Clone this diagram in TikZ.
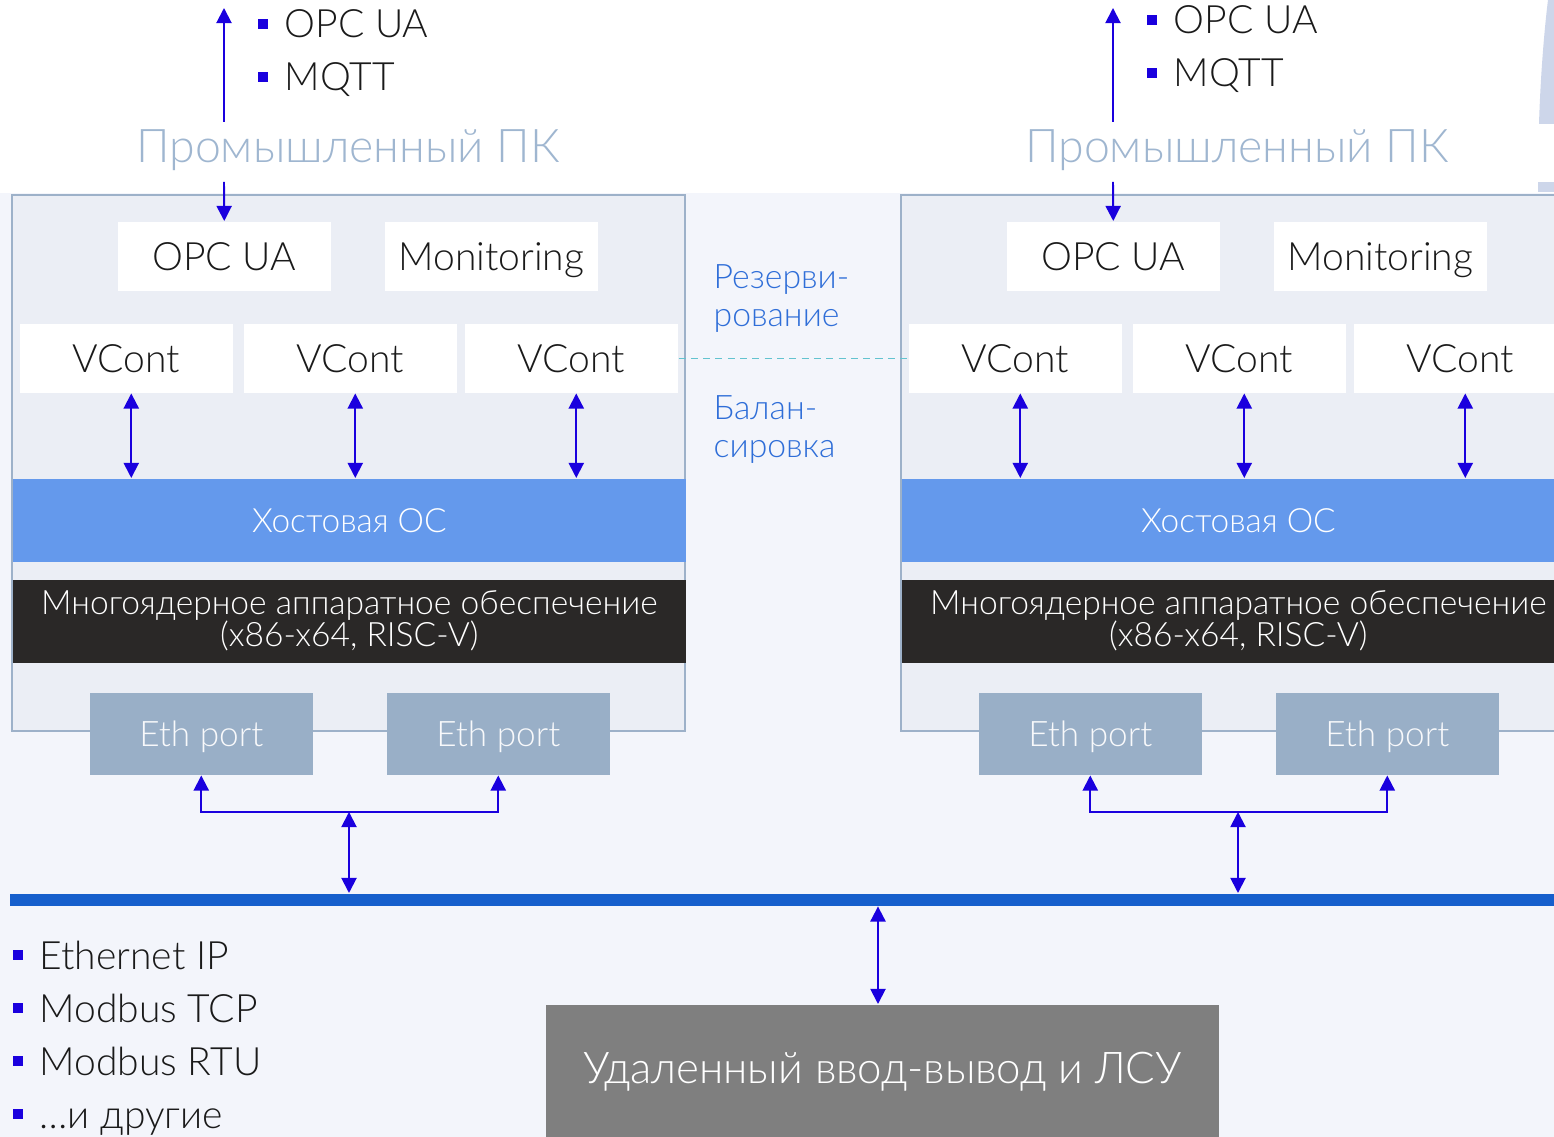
\documentclass[tikz,border=0pt]{standalone}
\usepackage{fontspec}
\setmainfont{Lato}[UprightFont={* Light}]
\usetikzlibrary{arrows.meta,positioning}
\definecolor{pagebg}{HTML}{F3F5FB}
\definecolor{framefill}{HTML}{EBEEF5}
\definecolor{framecol}{HTML}{9DB1C9}
\definecolor{titlecol}{HTML}{9FB6D0}
\definecolor{hostcol}{HTML}{6499EC}
\definecolor{hwcol}{HTML}{2A2827}
\definecolor{ethcol}{HTML}{99AFC7}
\definecolor{arrowblue}{HTML}{1A00DE}
\definecolor{buscol}{HTML}{165FCC}
\definecolor{riocol}{HTML}{7F7F7F}
\definecolor{midcol}{HTML}{2F6ED8}
\definecolor{dashcol}{HTML}{63C3CF}
\definecolor{ghostcol}{HTML}{CDD6EA}
\definecolor{boxtext}{HTML}{1A1A1A}
\newcommand\sqbul{{\color{arrowblue}\rule[0.09cm]{0.1cm}{0.1cm}}\hspace{0.17cm}}
\tikzset{
  whitebox/.style={fill=white, inner sep=0pt, anchor=north west,
    minimum width=2.13cm, minimum height=0.69cm, text=boxtext,
    text height=0.28cm, text depth=0pt,
    font=\fontsize{11.1}{13}\selectfont},
  hostbar/.style={fill=hostcol, inner sep=0pt, anchor=north west,
    minimum width=6.73cm, minimum height=0.83cm, text=white,
    text height=0.24cm, text depth=0pt,
    font=\fontsize{9.5}{12}\selectfont},
  hwbar/.style={fill=hwcol, inner sep=0pt, anchor=north west, align=center,
    minimum width=6.73cm, minimum height=0.83cm, text=white,
    font=\fontsize{9.55}{9.1}\selectfont},
  ethbox/.style={fill=ethcol, inner sep=0pt, anchor=north west,
    minimum width=2.23cm, minimum height=0.82cm, text=white!93!ethcol,
    text height=0.25cm, text depth=0pt,
    font=\fontsize{10}{12}\selectfont},
  pctitle/.style={anchor=base, inner sep=0pt, text=titlecol,
    font=\fontsize{13.2}{14}\selectfont},
  item/.style={anchor=base west, inner sep=0pt, text=boxtext,
    font=\fontsize{11.1}{12}\selectfont},
  midlabel/.style={anchor=north west, inner sep=0pt, align=left, text=midcol,
    font=\fontsize{9.6}{10.8}\selectfont},
  frame/.style={draw=framecol, line width=0.6pt, fill=framefill},
  arr/.style={-{Triangle[length=4.3pt,width=4.3pt]}, line width=0.55pt, draw=arrowblue},
  biarr/.style={{Triangle[length=4.3pt,width=4.3pt]}-{Triangle[length=4.3pt,width=4.3pt]},
    line width=0.55pt, draw=arrowblue},
  dashline/.style={draw=dashcol, dash pattern=on 2pt off 1.5pt, line width=0.3pt}
}
\begin{document}
\begin{tikzpicture}[x=0.01cm,y=-0.01cm]
  \useasboundingbox (0,0) rectangle (1554,1137);
  \clip (0,0) rectangle (1554,1137);
  \fill[pagebg] (0,193) rectangle (1554,1137);
  \fill[white] (0,0) rectangle (1554,193);
  % cropped shapes at the right edge
  \fill[ghostcol] (1554,0) -- (1548,0) .. controls (1543,40) and (1540,90) .. (1539,124) -- (1554,124) -- cycle;
  \fill[ghostcol] (1538,182) rectangle (1554,192);

  \node[fill=buscol, inner sep=0pt, anchor=north west, minimum width=15.45cm, minimum height=0.12cm] (bus) at (9,893) {};

  \foreach \s/\dx/\dy in {l/0/0, r/889/-4} {
    \draw[frame] (12+\dx,195) rectangle (685+\dx,731);
    \node[pctitle] (pc\s) at (348+\dx,163) {Промышленный ПК};
    \node[item] (opcitem\s) at (257+\dx,38+\dy) {\sqbul OPC UA};
    \node[item] (mqtt\s) at (257+\dx,91+\dy) {\sqbul MQTT};
    \node[whitebox] (opc\s) at (117+\dx,221) {OPC UA};
    \node[whitebox] (mon\s) at (384+\dx,221) {Monitoring};
    \node[whitebox] (vca\s) at (19+\dx,323) {VCont};
    \node[whitebox] (vcb\s) at (243+\dx,323) {VCont};
    \node[whitebox] (vcc\s) at (464+\dx,323) {VCont};
    \node[hostbar] (host\s) at (12+\dx,478) {Хостовая ОС};
    \node[hwbar] (hw\s) at (12+\dx,579) {Многоядерное аппаратное обеспечение\\(x86-x64, RISC-V)};
    \node[ethbox] (etha\s) at (89+\dx,692) {Eth port};
    \node[ethbox] (ethb\s) at (386+\dx,692) {Eth port};
    % links to the upper level
    \coordinate (dn\s) at (224+\dx,122);
    \coordinate (up\s) at (224+\dx,8);
    \coordinate (in\s) at (224+\dx,182);
    \draw[arr] (dn\s) -- (up\s);
    \draw[arr] (in\s) -- (opc\s.north);
    \foreach \v in {a,b,c}
      \draw[biarr] ([xshift=0.05cm]vc\v\s.south) -- ([xshift=0.05cm]vc\v\s.south |- host\s.north);
    \coordinate (join\s) at (349+\dx,812);
    \draw[biarr] (etha\s.south) |- (join\s) -| (ethb\s.south);
    \draw[biarr] (join\s) -- (join\s |- bus.north);
  }

  \draw[dashline] (vccl.east) -- (vcar.west);
  \node[midlabel] (resv) at (713,264) {Резерви-\\рование};
  \node[midlabel] (bal) at (713,395) {Балан-\\сировка};

  \node[fill=riocol, inner sep=0pt, anchor=north west, minimum width=6.73cm, minimum height=1.33cm,
    text=white, font=\fontsize{12.45}{15}\selectfont] (rio) at (545,1004) {Удаленный ввод-вывод и ЛСУ};
  \draw[biarr] (bus.south -| 878,0) -- (rio.north -| 878,0);

  \foreach \t [count=\i] in {Ethernet IP, Modbus TCP, Modbus RTU, …и другие}
    \node[item] (proto\i) at (12,{916+53*\i}) {\sqbul\t};
\end{tikzpicture}
\end{document}
